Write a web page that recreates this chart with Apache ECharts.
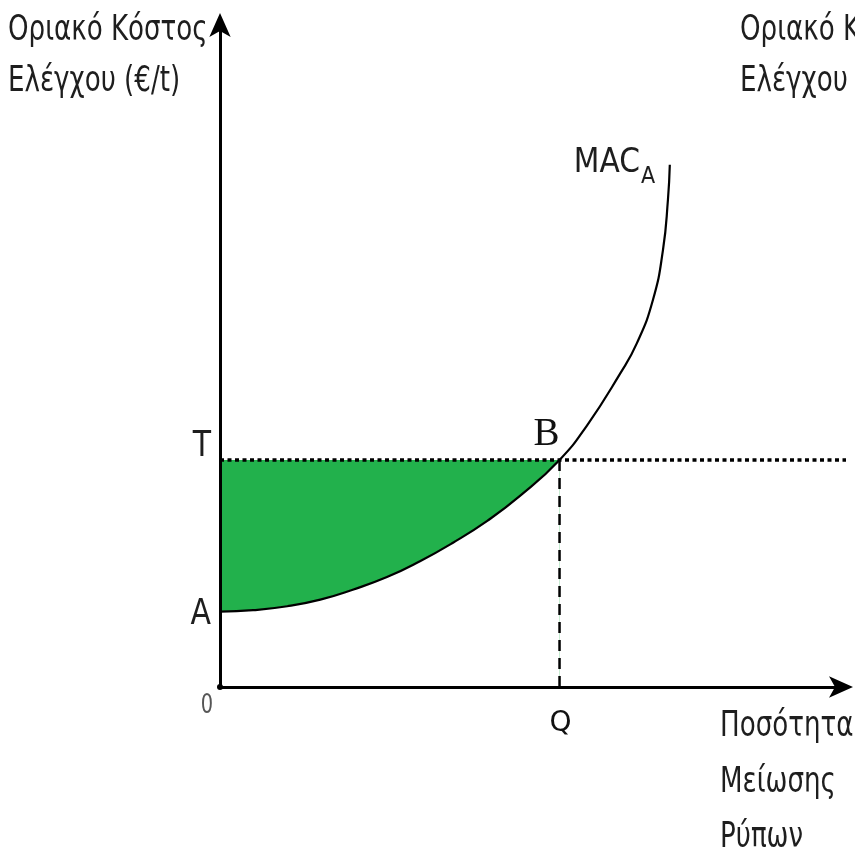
<!DOCTYPE html>
<html>
<head>
<meta charset="utf-8">
<script src="https://cdn.jsdelivr.net/npm/echarts@6/dist/echarts.min.js"></script>
<style>
html,body{margin:0;padding:0;background:#fff;}
#c{width:855px;height:855px;}
</style>
</head>
<body>
<div id="c"></div>
<script>
// ---- data ----
const curveX = [0, 5.3, 10.8, 16.1, 21.3, 26.8, 32.1, 37.4, 42.9, 48.2, 54.5, 58.9, 64.2, 66.9, 69.5, 71.1, 71.9, 72.2];
const curveY = [11.4, 11.6, 12.2, 13.2, 14.7, 16.6, 19.0, 21.8, 25.1, 28.9, 34.3, 39.5, 47.3, 51.9, 58.5, 66.0, 73.6, 78.9];
const levelT = 34.3;     // T
const levelA = 11.4;     // A (curve intercept)
const quantityQ = 54.5;  // Q
const yTitle = ['Οριακό Κόστος', 'Ελέγχου (€/t)'];
const xTitle = ['Ποσότητα', 'Μείωσης', 'Ρύπων'];
const curveName = 'MAC';
const curveSub = 'A';

const FONT = '"DejaVu Sans Condensed","DejaVu Sans",sans-serif';
const SX = 0.83;

const curve = curveX.map((x, i) => [x, curveY[i]]);
const bIdx = curveX.indexOf(quantityQ);
const curveToB = curve.slice(0, bIdx + 1);
const greenTop = [[0, levelT], [quantityQ, levelT]];

const chart = echarts.init(document.getElementById('c'), null, {renderer: 'canvas'});

function axis(off) {
  return {
    type: 'value', min: 0, max: 100, z: 10,
    axisLine: {show: true, onZero: false, lineStyle: {color: '#000', width: 3},
               symbol: ['none', 'arrow'], symbolSize: [16, 24], symbolOffset: [0, off]},
    axisTick: {show: false}, axisLabel: {show: false}, splitLine: {show: false}
  };
}

chart.setOption({
  animation: false,
  backgroundColor: '#fff',
  grid: {left: 220, top: 25, width: 623, height: 662},
  xAxis: axis(10),
  yAxis: axis(12),
  series: [
    { // green area under T level
      type: 'line', data: greenTop, showSymbol: false, z: 1,
      lineStyle: {width: 0}, areaStyle: {color: '#22b14c', opacity: 1}
    },
    { // white mask below the curve
      type: 'line', data: curveToB, smooth: 0.5, showSymbol: false, z: 1,
      lineStyle: {color: '#fff', width: 1}, areaStyle: {color: '#fff', opacity: 1}
    },
    { // T dotted line
      type: 'line', data: [[0, levelT], [102, levelT]], showSymbol: false, z: 3, clip: false,
      lineStyle: {color: '#000', width: 3.5, type: [4, 3.5]}
    },
    { // Q dashed line
      type: 'line', data: [[quantityQ, 0], [quantityQ, levelT]], showSymbol: false, z: 3,
      lineStyle: {color: '#000', width: 2.5, type: [11, 7]}
    },
    { // MAC curve
      type: 'line', data: curve, smooth: 0.5, showSymbol: false, z: 4,
      lineStyle: {color: '#000', width: 2.2}
    }
  ]
});

const px = p => chart.convertToPixel({gridIndex: 0}, p);
const pT = px([0, levelT]);
const pA = px([0, levelA]);
const pO = px([0, 0]);
const pQ = px([quantityQ, 0]);
const pB = px([quantityQ, levelT]);
const pEnd = px(curve[curve.length - 1]);

function txt(x, y, text, size, extra, sx) {
  return {
    type: 'text', x: x, y: y, z: 20, scaleX: sx || 1,
    style: Object.assign({text: text, font: size + 'px ' + FONT, fill: '#1e1e1e',
                          textAlign: 'left', textVerticalAlign: 'middle'}, extra || {})
  };
}

const g = [
  txt(8, 31, yTitle[0], 35, null, SX),
  txt(8, 82, yTitle[1], 35, null, SX),
  txt(740, 31, yTitle[0], 35, null, SX),
  txt(740, 82, yTitle[1], 35, null, SX),
  txt(720, 727, xTitle[0], 35, null, SX),
  txt(720, 783, xTitle[1], 35, null, SX),
  txt(720, 838, xTitle[2], 35, null, SX),
  txt(pT[0] - 9, pT[1] - 13, 'T', 35, {textAlign: 'right'}, 0.95),
  txt(pA[0] - 9, pA[1] + 3, 'A', 35, {textAlign: 'right'}, 0.95),
  txt(pO[0] - 7, pO[1] + 19, '0', 26, {textAlign: 'right', fill: '#555'}, SX),
  {type: 'text', x: pQ[0] + 1, y: pQ[1] + 37, z: 20,
   style: {text: 'Q', font: '28px "DejaVu Sans",sans-serif', fill: '#111',
           textAlign: 'center', textVerticalAlign: 'middle'}},
  {type: 'text', x: pB[0] - 13, y: pB[1] - 25, z: 20,
   style: {text: 'B', font: '39px "Liberation Serif","DejaVu Serif",serif', fill: '#111',
           textAlign: 'center', textVerticalAlign: 'middle'}},
  {type: 'text', x: pEnd[0] - 96, y: pEnd[1] - 1, z: 20,
   style: {text: curveName + '{s|' + curveSub + '}',
           font: '33px ' + FONT, fill: '#1e1e1e', textAlign: 'left', textVerticalAlign: 'middle',
           rich: {s: {fontSize: 23, fontFamily: FONT, fill: '#1e1e1e', padding: [26, 0, 0, 1]}}}},
  {type: 'circle', x: pO[0], y: pO[1], z: 20, shape: {r: 3}, style: {fill: '#000'}}
];
chart.setOption({graphic: {elements: g}});
</script>
</body>
</html>
